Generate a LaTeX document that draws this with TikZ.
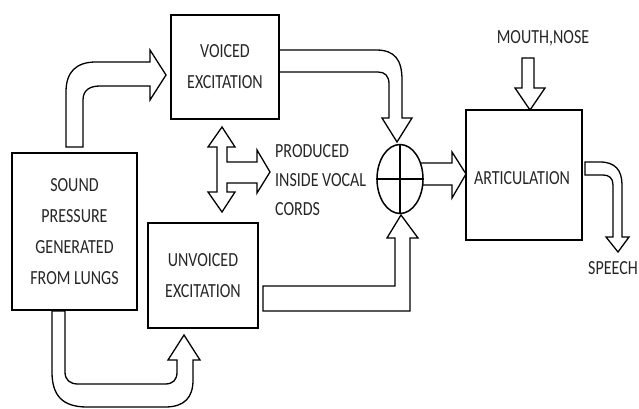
\documentclass[tikz,border=0pt]{standalone}
\usepackage{fontspec}
\setmainfont{Carlito}[FakeStretch=0.8]
\usetikzlibrary{shapes.geometric}
\begin{document}
\begin{tikzpicture}[x=1pt,y=-1pt,
  box/.style={draw, line width=1.6pt, align=center, inner sep=0pt,
    font=\fontsize{20}{31}\selectfont, text=black!85},
  blk/.style={draw, line width=1.3pt, line join=miter, fill=white},
  lbl/.style={font=\fontsize{20}{29}\selectfont, text=black!85, inner sep=0pt}]
\useasboundingbox (0,0) rectangle (639,409);
% block arrows
% sound -> voiced
\draw[blk] (66,147) -- (66,92) .. controls (66,72) and (76,62) .. (96,62) -- (150,62)
  -- (150,50) -- (166,75) -- (150,100) -- (150,86) -- (100,86)
  .. controls (90,86) and (83,90) .. (83,100) -- (83,147) -- cycle;
% voiced -> sum
\draw[blk] (279,50) -- (376,50) .. controls (395,50) and (402,60) .. (402,80) -- (402,118)
  -- (412,118) -- (397,142) -- (382,118) -- (389,118) -- (389,84)
  .. controls (389,76) and (385,72) .. (378,72) -- (279,72);
% unvoiced -> sum
\draw[blk] (263,286) -- (395,286) -- (395,238) -- (387,238) -- (401,215) -- (418,238)
  -- (410,238) -- (410,311) -- (263,311) -- cycle;
% sum -> articulation
\draw[blk] (420,163) -- (452,163) -- (452,152) -- (466,174) -- (452,198) -- (452,185) -- (422.6,185);
% mouth, nose
\draw[blk] (522,58) -- (534,58) -- (534,88) -- (545,88) -- (530,110) -- (515,88) -- (522,88) -- cycle;
% articulation -> speech
\draw[blk] (585,162) -- (600,162) .. controls (615,162) and (622,170) .. (622,185) -- (622,237)
  -- (629,237) -- (618,252) -- (606,237) -- (613,237) -- (613,185)
  .. controls (613,178) and (609,175) .. (603,175) -- (585,175) -- cycle;
% sound -> unvoiced (bottom loop)
\draw[blk] (52,311) -- (52,372) .. controls (52,395) and (62,407) .. (87,407) -- (165,407)
  .. controls (185,407) and (193,397) .. (193,380) -- (193,360) -- (200,360) -- (184,335)
  -- (168,360) -- (177,360) -- (177,372) .. controls (177,380) and (173,384) .. (165,384)
  -- (78,384) .. controls (70,384) and (65,380) .. (65,372) -- (65,311) -- cycle;
% three-way arrow
\draw[blk] (222,127) -- (235,147) -- (227,147) -- (227,162) -- (257,162) -- (257,150)
  -- (270,172) -- (257,193) -- (257,183) -- (227,183) -- (227,192) -- (235,192)
  -- (222,212) -- (208,192) -- (217,192) -- (217,147) -- (208,147) -- cycle;
% boxes
\node[box, minimum width=108pt, minimum height=104pt] (voiced) at (225,67) {VOICED\\EXCITATION};
\node[box, minimum width=125pt, minimum height=157pt] (sound) at (74.5,231.5) {SOUND\\PRESSURE\\GENERATED\\FROM LUNGS};
\node[box, minimum width=110pt, minimum height=105pt] (unvoiced) at (203,275.5) {UNVOICED\\EXCITATION};
\node[box, minimum width=116pt, minimum height=130pt] (artic) at (524,175) {};
\node[lbl] (articlbl) at (522,178) {ARTICULATION};
\node[draw, ellipse, line width=1.5pt, minimum width=46pt, minimum height=69pt, inner sep=0pt] (sum) at (400,179) {};
\draw[line width=1.5pt] (sum.west) -- (sum.east);
\draw[line width=1.5pt] (sum.north) -- (sum.south);
% labels
\node[lbl, anchor=west, align=left] (produced) at (275,180) {PRODUCED\\INSIDE VOCAL\\CORDS};
\node[lbl] (mouth) at (543,38) {MOUTH,NOSE};
\node[lbl] (speech) at (613,268) {SPEECH};
\end{tikzpicture}
\end{document}
